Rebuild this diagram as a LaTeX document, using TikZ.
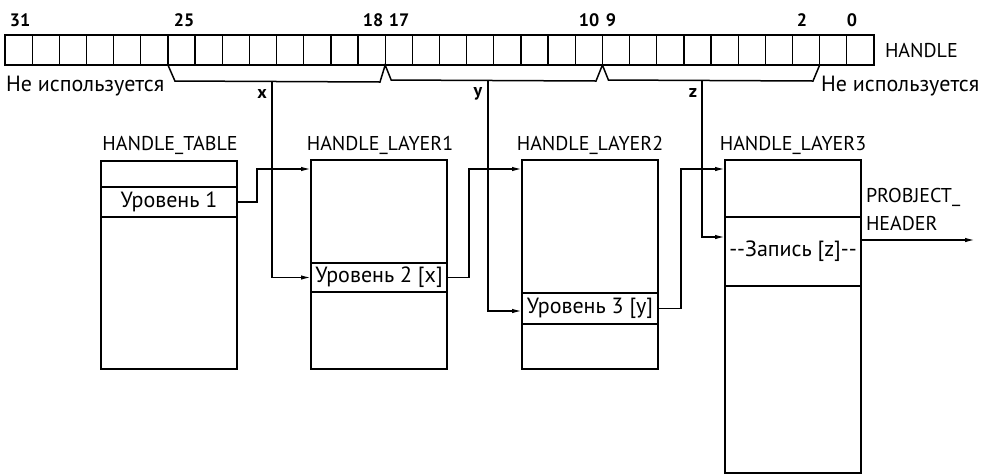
\documentclass[tikz,border=0pt]{standalone}
\usepackage{fontspec}
\setmainfont{PT Sans}
\usetikzlibrary{arrows.meta,calc}
\begin{document}
\begin{tikzpicture}[x=1pt,y=-1pt,
  every node/.style={inner sep=0pt, outer sep=0pt},
  ln/.style={line width=1.5pt},
  cell/.style={minimum width=27.156pt, minimum height=30pt, anchor=north west},
  box/.style={draw, line width=1.5pt, anchor=north west, minimum width=136pt},
  lbl/.style={font=\fontsize{20}{22}\selectfont},
  cy/.style={font=\fontsize{22}{24}\selectfont},
  num/.style={font=\bfseries\fontsize{18}{20}\selectfont},
  arr/.style={line width=1.5pt, -{Latex[length=10pt,width=4.5pt]}}
]
\useasboundingbox (0,0) rectangle (988,475);

% bit row
\foreach \i in {0,...,31} \node[cell] (b\i) at ({5+(31-\i)*27.156}, 35) {};
\draw[line width=1.3pt] (b31.north west) rectangle (b0.south east);
\foreach \i in {0,...,30} \draw[line width=1.3pt] (b\i.north west) -- (b\i.south west);
\node[num] (n31) at (20,20) {31};
\node[num] (n25) at (184,20) {25};
\node[num] (n18) at (373,20) {18};
\node[num] (n17) at (399,20) {17};
\node[num] (n10) at (589,20) {10};
\node[num] (n9) at (611,20) {9};
\node[num] (n2) at (802,20) {2};
\node[num] (n0) at (852,20) {0};
\node[lbl, anchor=west] (hl) at (885,50) {HANDLE};
\node[cy, anchor=west] (nu1) at (6,86) {Не используется};
\node[cy, anchor=west] (nu2) at (821,86) {Не используется};

% braces
\draw[ln] (b25.south west) -- ++(7,16) -- (380,82) -- (b17.south west) -- ++(6,15) -- (596,81)
  -- (b9.south west) -- ++(6,15) -- (813,81) -- (b1.south west);
\coordinate (xb) at (272,82);
\coordinate (yb) at (488,81);
\coordinate (zb) at (702,81);
\node[num] (xl) at (262,94) {x};
\node[num] (yl) at (478,94) {y};
\node[num] (zl) at (693,93) {z};

% HANDLE_TABLE
\node[lbl] (tt) at (170,145) {HANDLE\_TABLE};
\node[box, minimum height=26pt] (ta) at (101,161) {};
\node[box, minimum height=30pt, cy] (tb) at (101,187) {Уровень 1};
\node[box, minimum height=152pt] (tc) at (101,217) {};

% HANDLE_LAYER1
\node[lbl] (t1) at (380,145) {HANDLE\_LAYER1};
\node[box, minimum height=103pt] (l1a) at (311,160) {};
\node[box, minimum height=29pt, cy] (l1b) at (311,263) {Уровень 2 [x]};
\node[box, minimum height=77pt] (l1c) at (311,292) {};

% HANDLE_LAYER2
\node[lbl] (t2) at (590,145) {HANDLE\_LAYER2};
\node[box, minimum height=133pt] (l2a) at (522,160) {};
\node[box, minimum height=31pt, cy] (l2b) at (522,293) {Уровень 3 [y]};
\node[box, minimum height=45pt] (l2c) at (522,324) {};

% HANDLE_LAYER3
\node[lbl] (t3) at (793,145) {HANDLE\_LAYER3};
\node[box, minimum height=57pt] (l3a) at (725,160) {};
\node[box, minimum height=69pt, cy] (l3b) at (725,217) {-{}-Запись [z]-{}-};
\node[box, minimum height=187pt] (l3c) at (725,286) {};

\node[lbl, anchor=west] (pr1) at (866,197) {PROBJECT\_};
\node[lbl, anchor=west] (pr2) at (866,223) {HEADER};
\coordinate (pe) at (975,240);

% connectors
\draw[arr] (tb.east) -- ++(20,0) |- ($(l1a.north west)+(0,9)$);
\draw[arr] (xb) |- (l1b.west);
\draw[arr] (l1b.east) -- ++(22,0) |- ($(l2a.north west)+(0,9)$);
\draw[arr] (yb) |- ($(l2b.north west)+(0,18)$);
\draw[arr] (l2b.east) -- ++(23,0) |- ($(l3a.north west)+(0,9)$);
\draw[arr] (zb) |- ($(l3b.north west)+(0,20)$);
\draw[arr] ($(l3b.north east)+(0,23)$) -- (pe);
\end{tikzpicture}
\end{document}
